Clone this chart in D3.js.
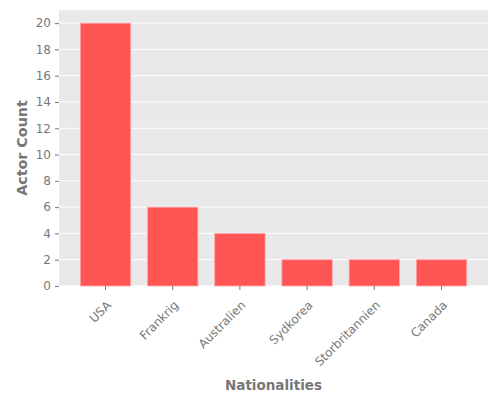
<!DOCTYPE html>
<html>
<head>
<meta charset="utf-8">
<script src="https://cdn.jsdelivr.net/npm/d3@7"></script>
<style>
  body { margin: 0; background: #fff; }
  text { font-family: "DejaVu Sans", sans-serif; }
</style>
</head>
<body>
<div id="chart"></div>
<script>
// chart values
const nationalities = ["USA", "Frankrig", "Australien", "Sydkorea", "Storbritannien", "Canada"];
const actorCounts = [20, 6, 4, 2, 2, 2];
const yTicks = [0, 2, 4, 6, 8, 10, 12, 14, 16, 18, 20];

const width = 500;
const height = 400;
const margin = {left: 59, right: 12, top: 10, bottom: 114};

const svg = d3.select("#chart")
  .append("svg")
  .attr("width", width)
  .attr("height", height);

const xScale = d3.scaleBand()
  .domain(nationalities)
  .range([margin.left, width - margin.right])
  .paddingInner(0.25)
  .paddingOuter(0.317);

const yScale = d3.scaleLinear()
  .domain([0, 21])
  .range([height - margin.bottom, margin.top]);

// plot background
svg.append("rect")
  .attr("x", margin.left)
  .attr("y", margin.top)
  .attr("width", width - margin.left - margin.right)
  .attr("height", height - margin.top - margin.bottom)
  .attr("fill", "#e9e9e9");

// grid lines
svg.append("g")
  .selectAll("line")
  .data(yTicks)
  .enter()
  .append("line")
    .attr("x1", margin.left)
    .attr("x2", width - margin.right)
    .attr("y1", d => yScale(d))
    .attr("y2", d => yScale(d))
    .attr("stroke", "#fff")
    .attr("stroke-width", 1);

// bars
svg.selectAll(".bar")
  .data(actorCounts)
  .enter()
  .append("rect")
    .attr("class", "bar")
    .attr("x", (d, i) => xScale(nationalities[i]))
    .attr("y", d => yScale(d))
    .attr("width", xScale.bandwidth())
    .attr("height", d => yScale(0) - yScale(d))
    .attr("fill", "#ff5555")
    .attr("stroke", "#ffaaaa")
    .attr("stroke-width", 0.8);

// y axis
const yAxis = svg.append("g")
  .attr("transform", `translate(${margin.left},0)`)
  .call(d3.axisLeft(yScale).tickValues(yTicks).tickSize(4).tickPadding(4));
yAxis.select(".domain").remove();
yAxis.selectAll("line").attr("stroke", "#777");
yAxis.selectAll("text").attr("fill", "#777").attr("font-size", "12px");

// x axis
const xAxis = svg.append("g")
  .attr("transform", `translate(0,${height - margin.bottom})`)
  .call(d3.axisBottom(xScale).tickSize(4));
xAxis.select(".domain").remove();
xAxis.selectAll("line").attr("stroke", "#777");
xAxis.selectAll("text")
  .attr("fill", "#777")
  .attr("font-size", "12px")
  .attr("text-anchor", "end")
  .attr("x", 0)
  .attr("y", 0)
  .attr("dy", "0.35em")
  .attr("transform", "translate(3.5,17) rotate(-45)");

// axis titles
svg.append("text")
  .attr("x", (margin.left + width - margin.right) / 2)
  .attr("y", 390)
  .attr("text-anchor", "middle")
  .attr("font-size", "13.5px")
  .attr("font-weight", "bold")
  .attr("fill", "#777")
  .text("Nationalities");

svg.append("text")
  .attr("transform", `translate(27,148) rotate(-90)`)
  .attr("text-anchor", "middle")
  .attr("font-size", "14.3px")
  .attr("font-weight", "bold")
  .attr("fill", "#777")
  .text("Actor Count");
</script>
</body>
</html>
